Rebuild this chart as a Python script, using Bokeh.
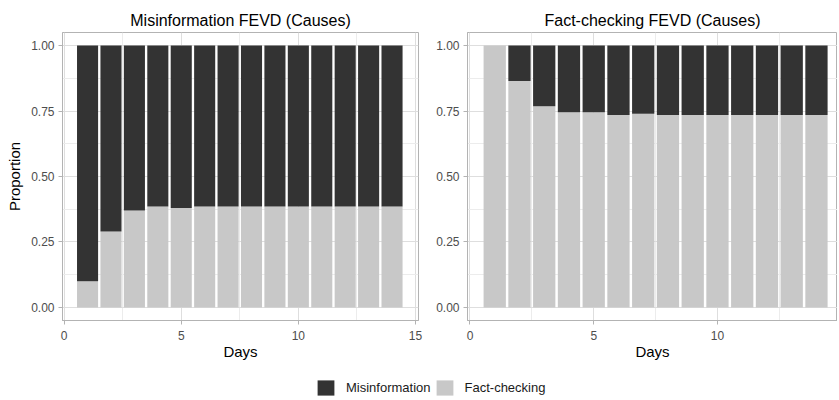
from bokeh.plotting import figure
from bokeh.layouts import row, column
from bokeh.models import ColumnDataSource, FixedTicker, PrintfTickFormatter, Legend, LegendItem, Range1d
from bokeh.embed import file_html
from bokeh.resources import INLINE

days = list(range(1, 15))

# Misinformation FEVD (Causes): shares of each cause
mis_panel_misinfo = [0.90, 0.71, 0.63, 0.615, 0.62, 0.615, 0.615, 0.615, 0.615, 0.615, 0.615, 0.615, 0.615, 0.615]
mis_panel_factchk = [0.10, 0.29, 0.37, 0.385, 0.38, 0.385, 0.385, 0.385, 0.385, 0.385, 0.385, 0.385, 0.385, 0.385]

# Fact-checking FEVD (Causes)
fc_panel_misinfo = [0.00, 0.135, 0.232, 0.255, 0.255, 0.265, 0.26, 0.265, 0.265, 0.265, 0.265, 0.265, 0.265, 0.265]
fc_panel_factchk = [1.00, 0.865, 0.768, 0.745, 0.745, 0.735, 0.74, 0.735, 0.735, 0.735, 0.735, 0.735, 0.735, 0.735]

legend_labels = ["Misinformation", "Fact-checking"]

x_ticks = [0, 5, 10, 15]
x_minor = [2.5, 7.5, 12.5]
y_ticks = [0, 0.25, 0.5, 0.75, 1.0]
y_minor = [0.125, 0.375, 0.625, 0.875]

DARK = "#333333"
LIGHT = "#c8c8c8"
FONT = "Liberation Sans"
BORDER = "#b3b3b3"


def make_panel(title, misinfo, factchk, width, x_start, x_end, border_left, border_right, show_ylabel):
    src = ColumnDataSource(dict(day=days, Misinformation=misinfo, Factchecking=factchk))
    p = figure(width=width, height=362, output_backend="svg", toolbar_location=None,
               x_range=Range1d(x_start, x_end), y_range=Range1d(-0.05, 1.05),
               min_border_left=border_left, min_border_right=border_right,
               min_border_top=32, min_border_bottom=42, title=title)
    p.vbar_stack(["Factchecking", "Misinformation"], x="day", width=0.9, source=src,
                 color=[LIGHT, DARK], line_color=None)
    p.title.text_font = FONT
    p.title.text_font_size = "16px"
    p.title.text_font_style = "normal"
    p.title.text_color = "#000000"
    p.title.align = "center"
    p.title.standoff = 7
    p.outline_line_color = BORDER
    p.outline_line_width = 1
    p.background_fill_color = "white"
    p.border_fill_color = "white"

    p.xaxis.ticker = FixedTicker(ticks=x_ticks, minor_ticks=x_minor)
    p.yaxis.ticker = FixedTicker(ticks=y_ticks, minor_ticks=y_minor)
    p.yaxis.formatter = PrintfTickFormatter(format="%.2f")
    p.xaxis.axis_label = "Days"
    if show_ylabel:
        p.yaxis.axis_label = "Proportion"
    for ax in (p.xaxis, p.yaxis):
        ax.axis_line_color = BORDER
        ax.major_tick_line_color = BORDER
        ax.major_tick_out = 4
        ax.major_tick_in = 0
        ax.minor_tick_line_color = None
        ax.major_label_text_font = FONT
        ax.major_label_text_font_size = "12px"
        ax.major_label_text_color = "#4d4d4d"
        ax.axis_label_text_font = FONT
        ax.axis_label_text_font_size = "15px"
        ax.axis_label_text_font_style = "normal"
        ax.axis_label_text_color = "#000000"
    p.xaxis.major_label_standoff = 6
    p.xaxis.axis_label_standoff = 0
    p.yaxis.major_label_standoff = 4
    p.yaxis.axis_label_standoff = 5
    for g in (p.xgrid, p.ygrid):
        g.grid_line_color = "#dedede"
        g.grid_line_width = 1
        g.minor_grid_line_color = "#ececec"
        g.minor_grid_line_width = 1
    return p


p1 = make_panel("Misinformation FEVD (Causes)", mis_panel_misinfo, mis_panel_factchk,
                425, -0.07, 15.13, 62, 7, True)
p2 = make_panel("Fact-checking FEVD (Causes)", fc_panel_misinfo, fc_panel_factchk,
                412, -0.1, 14.85, 42, 0, False)

# Legend strip (dummy zero-size bars carry the legend swatches)
dummy = ColumnDataSource(dict(x=[0.0], top=[0.0]))
lg = figure(width=837, height=38, output_backend="svg", toolbar_location=None,
            min_border=0, x_range=Range1d(0, 1), y_range=Range1d(0, 1))
lg.axis.visible = False
lg.grid.visible = False
lg.outline_line_color = None
r_mis = lg.vbar(x="x", top="top", bottom="top", width=0.0, source=dummy, color=DARK, line_color=None)
r_fc = lg.vbar(x="x", top="top", bottom="top", width=0.0, source=dummy, color=LIGHT, line_color=None)
legend = Legend(items=[LegendItem(label=legend_labels[0], renderers=[r_mis]),
                       LegendItem(label=legend_labels[1], renderers=[r_fc])],
                orientation="horizontal", location=(315, 3),
                glyph_width=21, glyph_height=19, label_standoff=10, spacing=3,
                padding=0, margin=0, border_line_color=None, background_fill_alpha=0,
                label_text_font=FONT, label_text_font_size="13px", label_text_color="#1a1a1a",
                label_height=19)
lg.add_layout(legend, "center")

layout = column(row(p1, p2), lg)
open("out.html", "w").write(file_html(layout, INLINE))
